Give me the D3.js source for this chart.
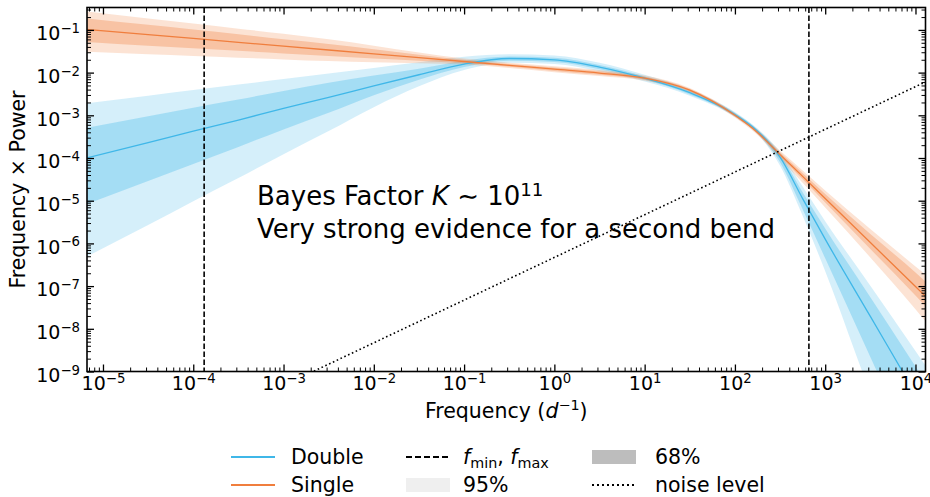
<!DOCTYPE html>
<html>
<head>
<meta charset="utf-8">
<script src="https://cdn.jsdelivr.net/npm/d3@7"></script>
<style>
  body { margin: 0; background: #fff; }
  svg { display: block; font-family: "DejaVu Sans", sans-serif; }
</style>
</head>
<body>
<svg id="chart" width="930" height="497"></svg>
<script>
// Sample frequencies, as log10(f / d^-1)
const freqExp = [-5.18, -4.5, -4, -3.5, -3, -2.5, -2, -1.5, -1, -0.5, 0, 0.5, 1, 1.5, 2, 2.25, 2.5, 2.75, 3, 3.5, 4, 4.11];

// Double bending power law: median of log10(frequency x power)
const doubleMid = [-4.00, -3.64, -3.37, -3.11, -2.84, -2.58, -2.31, -2.05, -1.80, -1.67, -1.70, -1.87, -2.13, -2.47, -2.98, -3.37, -3.98, -4.95, -5.90, -7.71, -9.52, -9.92];
// Band edges relative to the median (decades)
const doubleHi68 = [0.71, 0.62, 0.55, 0.48, 0.41, 0.34, 0.24, 0.14, 0.08, 0.05, 0.05, 0.05, 0.04, 0.04, 0.04, 0.04, 0.07, 0.15, 0.25, 0.45, 0.64, 0.68];
const doubleLo68 = [-1.08, -0.90, -0.77, -0.63, -0.49, -0.36, -0.22, -0.12, -0.07, -0.05, -0.05, -0.05, -0.04, -0.04, -0.04, -0.05, -0.12, -0.25, -0.45, -0.95, -1.45, -1.55];
const doubleHi95 = [1.28, 1.10, 0.96, 0.83, 0.69, 0.56, 0.42, 0.29, 0.17, 0.10, 0.10, 0.10, 0.08, 0.07, 0.06, 0.06, 0.12, 0.28, 0.42, 0.72, 1.00, 1.06];
const doubleLo95 = [-2.31, -1.93, -1.64, -1.36, -1.07, -0.79, -0.50, -0.27, -0.14, -0.10, -0.10, -0.10, -0.08, -0.07, -0.06, -0.07, -0.20, -0.40, -0.75, -1.80, -2.70, -2.90];

// Single bending power law
const singleMid = [-0.99, -1.11, -1.20, -1.29, -1.38, -1.47, -1.56, -1.65, -1.74, -1.83, -1.92, -2.01, -2.13, -2.41, -3.00, -3.40, -3.92, -4.43, -4.95, -5.98, -7.01, -7.24];
const singleHi68 = [0.26, 0.23, 0.21, 0.19, 0.16, 0.14, 0.11, 0.07, 0.04, 0.03, 0.04, 0.04, 0.035, 0.03, 0.03, 0.035, 0.05, 0.08, 0.11, 0.20, 0.33, 0.35];
const singleLo68 = [-0.29, -0.26, -0.23, -0.20, -0.17, -0.14, -0.11, -0.07, -0.04, -0.03, -0.04, -0.04, -0.035, -0.03, -0.03, -0.035, -0.05, -0.07, -0.09, -0.15, -0.21, -0.23];
const singleHi95 = [0.42, 0.38, 0.35, 0.32, 0.29, 0.25, 0.19, 0.12, 0.07, 0.06, 0.07, 0.07, 0.06, 0.05, 0.05, 0.06, 0.09, 0.14, 0.19, 0.32, 0.47, 0.51];
const singleLo95 = [-0.52, -0.46, -0.41, -0.36, -0.31, -0.26, -0.20, -0.13, -0.07, -0.06, -0.07, -0.07, -0.06, -0.05, -0.05, -0.06, -0.10, -0.15, -0.21, -0.35, -0.53, -0.58];

// White-noise level: frequency x power at two frequencies
const noiseFreq = [1e-3, 1.3e4];
const noiseVal = [4.7e-10, 6.1e-3];

// Frequency limits of the light curve
const fMin = 1.32e-4;
const fMax = 660;

// Tick positions (decade exponents)
const xTickExp = [-5, -4, -3, -2, -1, 0, 1, 2, 3, 4];
const yTickExp = [-9, -8, -7, -6, -5, -4, -3, -2, -1];

const legendRows = [
  ["Double", "fminmax", "68%"],
  ["Single", "95%", "noise level"]
];

const colors = {
  double: "#3fb7e8",
  single: "#f07e3d",
  band68: "#bdbdbd",
  band95: "#efefef"
};

const svg = d3.select("#chart");
const box = { left: 87, right: 925.5, top: 7.5, bottom: 371.5 };

const x = d3.scaleLog()
  .domain([Math.pow(10, -5.177), Math.pow(10, 4.111)])
  .range([box.left, box.right]);
const y = d3.scaleLog()
  .domain([1e-9, Math.pow(10, -0.475)])
  .range([box.bottom, box.top]);

svg.append("defs").append("clipPath").attr("id", "plotclip")
  .append("rect")
  .attr("x", box.left).attr("y", box.top)
  .attr("width", box.right - box.left).attr("height", box.bottom - box.top);

const plot = svg.append("g").attr("clip-path", "url(#plotclip)");

function rows(mid, lo, hi) {
  return freqExp.map((e, i) => ({
    f: Math.pow(10, e),
    m: Math.pow(10, mid[i]),
    lo: Math.pow(10, mid[i] + (lo ? lo[i] : 0)),
    hi: Math.pow(10, mid[i] + (hi ? hi[i] : 0))
  }));
}

const area = d3.area()
  .x(d => x(d.f)).y0(d => y(d.lo)).y1(d => y(d.hi))
  .curve(d3.curveMonotoneX);
const line = d3.line()
  .x(d => x(d.f)).y(d => y(d.m))
  .curve(d3.curveMonotoneX);

const models = [
  { key: "double", mid: doubleMid, lo68: doubleLo68, hi68: doubleHi68, lo95: doubleLo95, hi95: doubleHi95 },
  { key: "single", mid: singleMid, lo68: singleLo68, hi68: singleHi68, lo95: singleLo95, hi95: singleHi95 }
];

models.forEach(m => {
  plot.append("path").datum(rows(m.mid, m.lo95, m.hi95))
    .attr("d", area).attr("fill", colors[m.key]).attr("fill-opacity", 0.22);
  plot.append("path").datum(rows(m.mid, m.lo68, m.hi68))
    .attr("d", area).attr("fill", colors[m.key]).attr("fill-opacity", 0.32);
});
models.forEach(m => {
  plot.append("path").datum(rows(m.mid))
    .attr("d", line).attr("fill", "none")
    .attr("stroke", colors[m.key]).attr("stroke-width", 1.3);
});

// noise level
plot.append("path")
  .datum(noiseFreq.map((f, i) => ({ f: f, v: noiseVal[i] })))
  .attr("d", d3.line().x(d => x(d.f)).y(d => y(d.v)))
  .attr("fill", "none").attr("stroke", "#000")
  .attr("stroke-width", 1.6).attr("stroke-dasharray", "1.6,2.6");

// f_min / f_max
[fMin, fMax].forEach(f => {
  plot.append("line")
    .attr("x1", x(f)).attr("x2", x(f))
    .attr("y1", box.top).attr("y2", box.bottom)
    .attr("stroke", "#000").attr("stroke-width", 1.6)
    .attr("stroke-dasharray", "5.6,2.4");
});

// ---- axes: inward ticks on all four sides ----
const xMajor = xTickExp.map(e => Math.pow(10, e));
const yMajor = yTickExp.map(e => Math.pow(10, e));
function minors(scale) {
  const [a, b] = scale.domain();
  const out = [];
  for (let e = Math.floor(Math.log10(a)); e <= Math.ceil(Math.log10(b)); e++) {
    for (let k = 2; k <= 9; k++) {
      const v = k * Math.pow(10, e);
      if (v >= a && v <= b) out.push(v);
    }
  }
  return out;
}
const xMinor = minors(x);
const yMinor = minors(y);

function expText(sel) {
  sel.selectAll(".tick text").each(function (d) {
    const t = d3.select(this);
    const e = Math.round(Math.log10(d));
    t.text("10");
    t.append("tspan").attr("dy", "-0.55em").attr("font-size", "0.7em")
      .text(e < 0 ? "\u2212" + (-e) : String(e));
  });
}

const tickFont = 19;
function styleAxis(g, w) {
  g.select(".domain").remove();
  g.selectAll(".tick line").attr("stroke", "#000").attr("stroke-width", w);
  g.attr("font-family", "DejaVu Sans").attr("font-size", tickFont);
  g.selectAll(".tick text").attr("fill", "#000");
}

// bottom
const gxB = svg.append("g").attr("transform", `translate(0,${box.bottom})`)
  .call(d3.axisBottom(x).tickValues(xMajor).tickSize(-7).tickPadding(5).tickFormat(d => d));
styleAxis(gxB, 1.3); expText(gxB);
gxB.selectAll(".tick text").attr("dy", "0.72em");
const gxBm = svg.append("g").attr("transform", `translate(0,${box.bottom})`)
  .call(d3.axisBottom(x).tickValues(xMinor).tickSize(-4).tickFormat(""));
styleAxis(gxBm, 1);
// top
const gxT = svg.append("g").attr("transform", `translate(0,${box.top})`)
  .call(d3.axisTop(x).tickValues(xMajor).tickSize(-7).tickFormat(""));
styleAxis(gxT, 1.3);
const gxTm = svg.append("g").attr("transform", `translate(0,${box.top})`)
  .call(d3.axisTop(x).tickValues(xMinor).tickSize(-4).tickFormat(""));
styleAxis(gxTm, 1);
// left
const gyL = svg.append("g").attr("transform", `translate(${box.left},0)`)
  .call(d3.axisLeft(y).tickValues(yMajor).tickSize(-7).tickPadding(7).tickFormat(d => d));
styleAxis(gyL, 1.3); expText(gyL);
gyL.selectAll(".tick text").attr("dy", "0.52em");
const gyLm = svg.append("g").attr("transform", `translate(${box.left},0)`)
  .call(d3.axisLeft(y).tickValues(yMinor).tickSize(-4).tickFormat(""));
styleAxis(gyLm, 1);
// right
const gyR = svg.append("g").attr("transform", `translate(${box.right},0)`)
  .call(d3.axisRight(y).tickValues(yMajor).tickSize(-7).tickFormat(""));
styleAxis(gyR, 1.3);
const gyRm = svg.append("g").attr("transform", `translate(${box.right},0)`)
  .call(d3.axisRight(y).tickValues(yMinor).tickSize(-4).tickFormat(""));
styleAxis(gyRm, 1);

// frame
svg.append("rect")
  .attr("x", box.left).attr("y", box.top)
  .attr("width", box.right - box.left).attr("height", box.bottom - box.top)
  .attr("fill", "none").attr("stroke", "#000").attr("stroke-width", 1.6);

// axis titles
const xt = svg.append("text")
  .attr("x", (box.left + box.right) / 2).attr("y", 418)
  .attr("text-anchor", "middle").attr("font-size", 20.5);
xt.append("tspan").text("Frequency (");
xt.append("tspan").attr("font-style", "italic").text("d");
xt.append("tspan").attr("dy", "-0.55em").attr("font-size", "0.7em").text("\u22121");
xt.append("tspan").attr("dy", "0.385em").text(")");

svg.append("text")
  .attr("transform", `translate(25,${(box.top + box.bottom) / 2}) rotate(-90)`)
  .attr("text-anchor", "middle").attr("font-size", 20.5)
  .text("Frequency \u00d7 Power");

// annotation
const ann = svg.append("text").attr("x", 257).attr("y", 205).attr("font-size", 26);
ann.append("tspan").text("Bayes Factor ");
ann.append("tspan").attr("font-style", "italic").text("K");
ann.append("tspan").text(" \u223c 10");
ann.append("tspan").attr("dy", "-0.5em").attr("font-size", "0.7em").text("11");
svg.append("text").attr("x", 257).attr("y", 238).attr("font-size", 26)
  .text("Very strong evidence for a second bend");

// legend
const legY = [457, 485];
const colX = [{ h: 231, t: 291 }, { h: 406, t: 463 }, { h: 592, t: 655 }];
const leg = svg.append("g").attr("font-size", 20.5);
function handle(kind, cx, cy) {
  if (kind === "Double" || kind === "Single") {
    leg.append("line").attr("x1", cx).attr("x2", cx + 44).attr("y1", cy).attr("y2", cy)
      .attr("stroke", colors[kind.toLowerCase()]).attr("stroke-width", 2);
  } else if (kind === "fminmax") {
    leg.append("line").attr("x1", cx).attr("x2", cx + 44).attr("y1", cy).attr("y2", cy)
      .attr("stroke", "#000").attr("stroke-width", 2).attr("stroke-dasharray", "6,3");
  } else if (kind === "68%" || kind === "95%") {
    leg.append("rect").attr("x", cx).attr("y", cy - 7).attr("width", 44).attr("height", 14)
      .attr("fill", kind === "68%" ? colors.band68 : colors.band95);
  } else {
    leg.append("line").attr("x1", cx).attr("x2", cx + 44).attr("y1", cy).attr("y2", cy)
      .attr("stroke", "#000").attr("stroke-width", 2).attr("stroke-dasharray", "2,3");
  }
}
legendRows.forEach((row, r) => {
  row.forEach((item, c) => {
    handle(item, colX[c].h, legY[r]);
    const t = leg.append("text").attr("x", colX[c].t).attr("y", legY[r] + 7);
    if (item === "fminmax") {
      t.append("tspan").attr("font-style", "italic").text("f");
      t.append("tspan").attr("dy", "0.3em").attr("font-size", "0.7em").text("min");
      t.append("tspan").attr("dy", "-0.21em").text(", ");
      t.append("tspan").attr("font-style", "italic").text("f");
      t.append("tspan").attr("dy", "0.3em").attr("font-size", "0.7em").text("max");
    } else {
      t.text(item);
    }
  });
});
</script>
</body>
</html>
